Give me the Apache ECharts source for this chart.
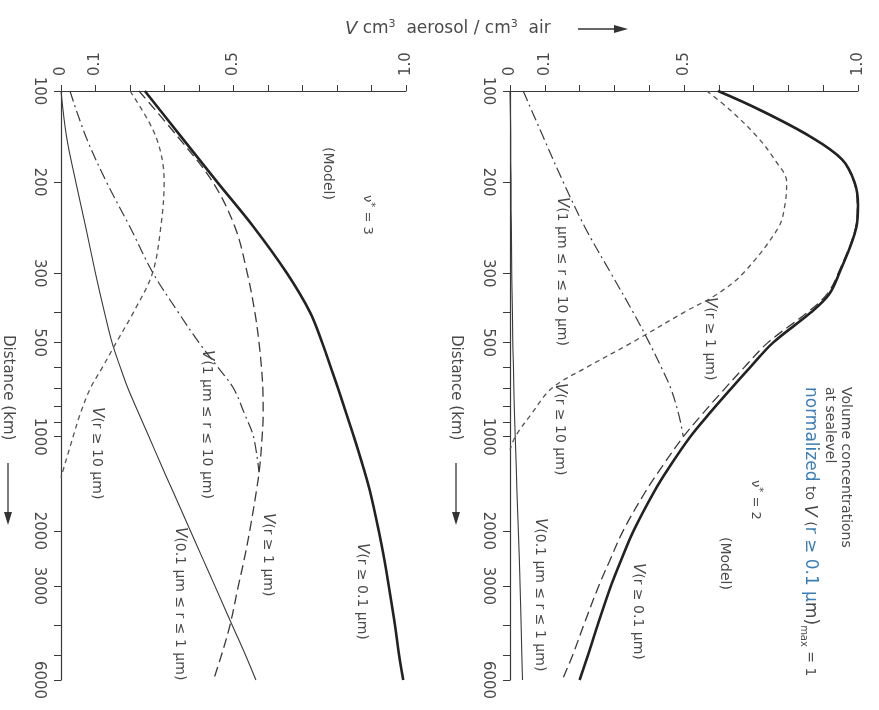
<!DOCTYPE html>
<html>
<head>
<meta charset="utf-8">
<script src="https://cdn.jsdelivr.net/npm/echarts@6/dist/echarts.min.js"></script>
<style>
html,body{margin:0;padding:0;background:#fff;}
#main{width:879px;height:710px;}
</style>
</head>
<body>
<div id="main"></div>
<script>
// distance axis ticks / labels (km)
var distLabels = [100, 200, 300, 500, 1000, 2000, 3000, 6000];
var distTicks = [100, 200, 300, 400, 500, 600, 700, 800, 900, 1000, 2000, 3000, 4000, 5000, 6000];
var vLabels = [0, 0.1, 0.5, 1.0];

// nu* = 3 (left panel)
var dist3 = [100, 150, 200, 250, 300, 400, 500, 600, 700, 850, 1000, 1250, 1500, 2000, 2500, 3000, 4000, 5000, 6000];
var total3 = [0.243, 0.348, 0.453, 0.56, 0.655, 0.722, 0.757, 0.782, 0.803, 0.828, 0.849, 0.876, 0.896, 0.921, 0.938, 0.95, 0.968, 0.98, 0.992];
var ge1_3 = [0.226, 0.338, 0.44, 0.505, 0.54, 0.562, 0.574, 0.581, 0.585, 0.586, 0.583, 0.576, 0.566, 0.547, 0.53, 0.514, 0.49, 0.465, 0.442];
var fine3 = [0, 0.016, 0.043, 0.072, 0.10, 0.126, 0.148, 0.172, 0.194, 0.227, 0.255, 0.293, 0.325, 0.375, 0.414, 0.446, 0.496, 0.535, 0.565];
var midDist3 = [100, 150, 200, 250, 300, 400, 500, 600, 700, 850, 1000, 1300];
var mid3 = [0.026, 0.072, 0.132, 0.201, 0.267, 0.34, 0.40, 0.455, 0.50, 0.533, 0.558, 0.574];
var coarseDist3 = [100, 150, 200, 250, 300, 400, 500, 600, 700, 850, 1000, 1350];
var coarse3 = [0.20, 0.275, 0.299, 0.289, 0.265, 0.21, 0.16, 0.12, 0.085, 0.055, 0.035, 0];

// nu* = 2 (right panel)
var dist2 = [100, 120, 150, 175, 200, 225, 250, 300, 350, 400, 500, 600, 700, 850, 1000, 1250, 1500, 2000, 2500, 3000, 4000, 5000, 6000];
var total2 = [0.598, 0.714, 0.863, 0.954, 0.99, 1.0, 0.995, 0.946, 0.917, 0.865, 0.756, 0.69, 0.636, 0.57, 0.518, 0.458, 0.414, 0.355, 0.318, 0.29, 0.252, 0.224, 0.20];
var ge1_2 = [0.596, 0.712, 0.861, 0.952, 0.988, 0.998, 0.993, 0.943, 0.911, 0.855, 0.741, 0.673, 0.618, 0.551, 0.498, 0.436, 0.389, 0.325, 0.286, 0.255, 0.212, 0.18, 0.15];
var fine2 = [0, 0.001, 0.002, 0.002, 0.003, 0.003, 0.004, 0.005, 0.006, 0.007, 0.008, 0.01, 0.011, 0.013, 0.015, 0.018, 0.02, 0.024, 0.027, 0.029, 0.032, 0.034, 0.036];
var midDist2 = [100, 150, 200, 250, 300, 400, 500, 600, 700, 850, 1000];
var mid2 = [0.038, 0.095, 0.153, 0.216, 0.29, 0.354, 0.40, 0.435, 0.462, 0.485, 0.498];
var coarseDist2 = [100, 120, 150, 175, 200, 225, 250, 300, 350, 400, 500, 600, 700, 850, 1000, 1100];
var coarse2 = [0.565, 0.63, 0.71, 0.76, 0.795, 0.79, 0.771, 0.67, 0.595, 0.50, 0.35, 0.22, 0.12, 0.06, 0.015, 0];

// the distance scale of the figure: linear up to 300 km, logarithmic beyond
function distPos(d) {
    if (d <= 300) return (d - 100) / 100;
    return 2 + 3.43 * Math.log10(d / 300);
}

var INK = '#3a3a3a';
var TXT = '#4a4a4a';
var FONT = '"DejaVu Sans", sans-serif';

function vAxis(gi) {
    return {
        type: 'value', gridIndex: gi, position: 'top',
        min: 0, max: 1, interval: 0.1,
        axisLine: {show: true, onZero: false, lineStyle: {color: INK, width: 1.2}},
        axisTick: {show: true, length: 6, lineStyle: {color: INK, width: 1}},
        axisLabel: {
            customValues: vLabels, rotate: -90, margin: 15,
            fontSize: 15, fontFamily: FONT, color: TXT,
            formatter: function (v) { return v === 0 ? '0' : v.toFixed(1); }
        },
        splitLine: {show: false}
    };
}

function dAxis(gi) {
    return {
        type: 'value', gridIndex: gi, inverse: true,
        min: 0, max: distPos(6000),
        axisLine: {show: true, onZero: false, lineStyle: {color: INK, width: 1.2}},
        axisTick: {show: true, length: 7, customValues: distTicks.map(distPos), lineStyle: {color: INK}},
        axisLabel: {
            customValues: distLabels.map(distPos), rotate: -90, margin: 15,
            fontSize: 15, fontFamily: FONT, color: TXT,
            formatter: function (v) {
                for (var i = 0; i < distLabels.length; i++) {
                    if (Math.abs(distPos(distLabels[i]) - v) < 1e-6) return String(distLabels[i]);
                }
                return '';
            }
        },
        splitLine: {show: false}
    };
}

function curve(gi, dists, vals, style, z) {
    return {
        type: 'line', xAxisIndex: gi, yAxisIndex: gi,
        data: dists.map(function (d, i) { return [vals[i], distPos(d)]; }),
        symbol: 'none', showSymbol: false, smooth: 0.35, clip: false, silent: true,
        lineStyle: style, z: z || 2
    };
}

var thick = {color: '#222', width: 2.6, type: 'solid'};
var thin = {color: INK, width: 1.1, type: 'solid'};
var longDash = {color: INK, width: 1.3, type: [10, 5]};
var shortDash = {color: '#555', width: 1.3, type: [5, 4]};
var dashDot = {color: INK, width: 1.2, type: [11, 4, 2, 4]};

function rtext(x, y, text, size, rich) {
    return {
        type: 'text', x: x, y: y, rotation: -Math.PI / 2, silent: true,
        style: {
            text: text, fontSize: size || 14, fontFamily: FONT, fill: TXT,
            align: 'left', verticalAlign: 'middle', rich: rich || {}
        }
    };
}

var richV = {
    v: {fontStyle: 'italic', fontSize: 15, fontFamily: FONT, fill: TXT},
    s: {fontSize: 10, fontFamily: FONT, fill: TXT, verticalAlign: 'bottom', padding: [0, 0, 8, 0]}
};

function downArrow(x, y0, y1) {
    return {
        type: 'group', silent: true, children: [
            {type: 'line', shape: {x1: x, y1: y0, x2: x, y2: y1 - 10}, style: {stroke: '#333', lineWidth: 1.3}},
            {type: 'polygon', shape: {points: [[x - 4, y1 - 13], [x + 4, y1 - 13], [x, y1]]}, style: {fill: '#333'}}
        ]
    };
}

var option = {
    backgroundColor: '#fff',
    animation: false,
    grid: [
        {left: 61, top: 91, width: 345, height: 589},
        {left: 510, top: 91, width: 348, height: 589}
    ],
    xAxis: [vAxis(0), vAxis(1)],
    yAxis: [dAxis(0), dAxis(1)],
    series: [
        curve(0, dist3, fine3, thin),
        curve(0, coarseDist3, coarse3, shortDash),
        curve(0, midDist3, mid3, dashDot),
        curve(0, dist3, ge1_3, longDash),
        curve(0, dist3, total3, thick, 3),
        curve(1, dist2, fine2, thin),
        curve(1, coarseDist2, coarse2, shortDash),
        curve(1, midDist2, mid2, dashDot),
        curve(1, dist2, ge1_2, longDash),
        curve(1, dist2, total2, thick, 3)
    ],
    graphic: [
        {
            type: 'text', x: 345, y: 29, silent: true,
            style: {
                text: '{v|V} cm{s|3}  aerosol / cm{s|3}  air',
                fontSize: 17, fontFamily: FONT, fill: TXT, align: 'left', verticalAlign: 'middle',
                rich: {
                    v: {fontStyle: 'italic', fontSize: 18, fontFamily: FONT, fill: TXT},
                    s: {fontSize: 11, fontFamily: FONT, fill: TXT, verticalAlign: 'bottom', padding: [0, 0, 9, 0]}
                }
            }
        },
        {
            type: 'group', silent: true, children: [
                {type: 'line', shape: {x1: 578, y1: 29, x2: 616, y2: 29}, style: {stroke: '#333', lineWidth: 1.3}},
                {type: 'polygon', shape: {points: [[614, 25], [614, 33], [628, 29]]}, style: {fill: '#333'}}
            ]
        },
        // distance titles
        rtext(8, 335, 'Distance (km)', 15),
        downArrow(8, 463, 525),
        rtext(456, 335, 'Distance (km)', 15),
        downArrow(456, 463, 525),
        // left panel, nu* = 3
        rtext(328, 147, '(Model)', 14),
        rtext(367, 195, 'ν{s|*} = 3', 13, richV),
        rtext(207, 350, '{v|V}(1 µm ≤ r ≤ 10 µm)', 14, richV),
        rtext(97, 407, '{v|V}(r ≥ 10 µm)', 14, richV),
        rtext(180, 527, '{v|V}(0.1 µm ≤ r ≤ 1 µm)', 14, richV),
        rtext(268, 513, '{v|V}(r ≥ 1 µm)', 14, richV),
        rtext(362, 543, '{v|V}(r ≥ 0.1 µm)', 14, richV),
        // right panel, nu* = 2
        rtext(562, 197, '{v|V}(1 µm ≤ r ≤ 10 µm)', 14, richV),
        rtext(710, 297, '{v|V}(r ≥ 1 µm)', 14, richV),
        rtext(560, 383, '{v|V}(r ≥ 10 µm)', 14, richV),
        rtext(540, 518, '{v|V}(0.1 µm ≤ r ≤ 1 µm)', 14, richV),
        rtext(638, 563, '{v|V}(r ≥ 0.1 µm)', 14, richV),
        rtext(725, 537, '(Model)', 14),
        rtext(755, 480, 'ν{s|*} = 2', 13, richV),
        rtext(846, 387, 'Volume concentrations', 14),
        rtext(830, 387, 'at sealevel', 14),
        rtext(810, 387, '{b|normalized} to {v|V} ({b|r ≥ 0.1 µ}{w|m)}{m|max} = 1', 14, {
            b: {fontSize: 17, fontFamily: FONT, fill: '#3d7fb5'},
            w: {fontSize: 17, fontFamily: FONT, fill: TXT},
            v: {fontStyle: 'italic', fontSize: 18, fontFamily: FONT, fill: TXT},
            m: {fontSize: 10, fontFamily: FONT, fill: TXT, verticalAlign: 'top', padding: [12, 0, 0, 0]}
        })
    ]
};

var myChart = echarts.init(document.getElementById('main'), null, {renderer: 'canvas'});
myChart.setOption(option);
</script>
</body>
</html>
